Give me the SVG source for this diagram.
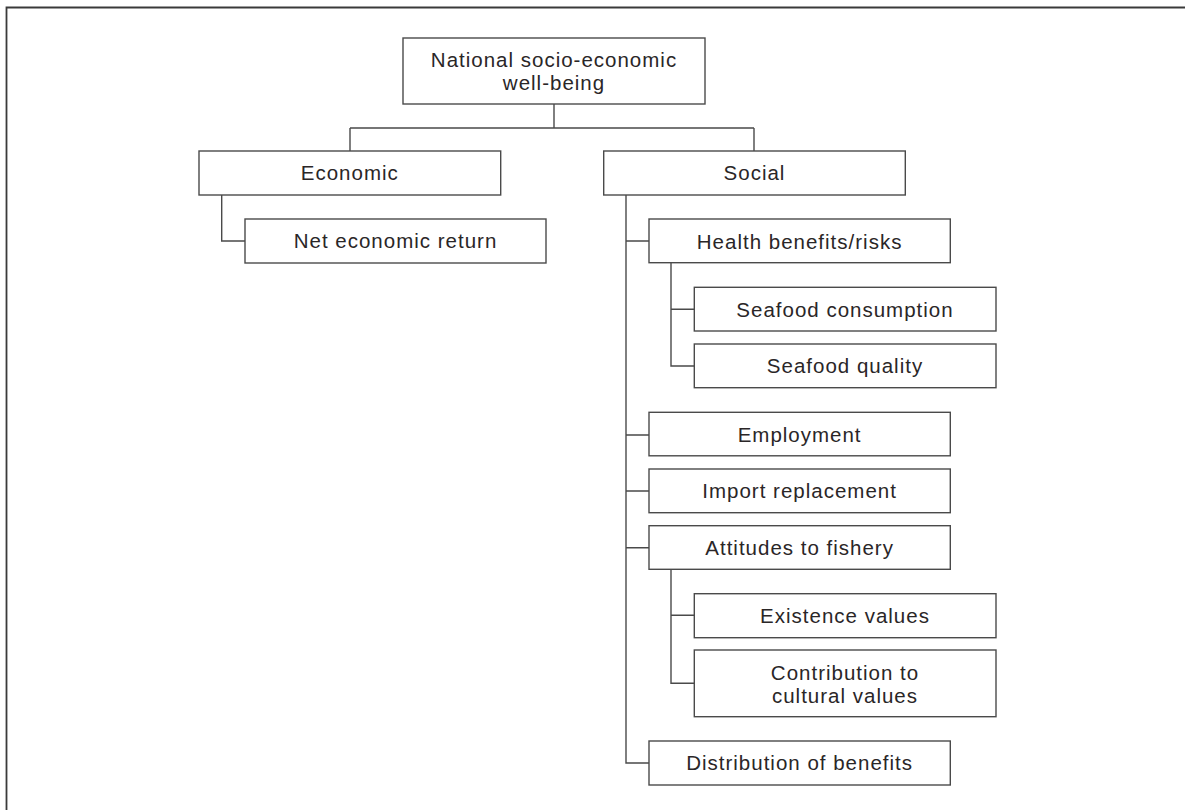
<svg xmlns="http://www.w3.org/2000/svg" width="1185" height="810" viewBox="0 0 1185 810">
  <style>
    .box { fill: #ffffff; stroke: #4a4a4a; stroke-width: 1.4; }
    .lbl { font-family: "Liberation Sans", Arial, sans-serif; font-size: 20.5px; letter-spacing: 1px; fill: #2a2627; text-anchor: middle; }
    .wire { fill: none; stroke: #4a4a4a; stroke-width: 1.4; }
    .frame { fill: none; stroke: #3a3a3a; stroke-width: 1.8; }
  </style>
  <rect width="1185" height="810" fill="#ffffff"/>
  <!-- outer frame (top and left edges) -->
  <path class="frame" d="M6.5,810 V7.5 H1185"/>

  <!-- connectors -->
  <g id="connectors">
    <path class="wire" d="M554,104 V128 M350,128 H754 M350,128 V151 M754,128 V151"/>
    <path class="wire" d="M221.7,195 V241 H245"/>
    <path class="wire" d="M626,195 V763 H649 M626,241 H649 M626,435 H649 M626,491 H649 M626,547.7 H649"/>
    <path class="wire" d="M671,263 V366 H694 M671,309.3 H694"/>
    <path class="wire" d="M671,569.3 V683.3 H694 M671,615.3 H694"/>
  </g>

  <g id="root">
    <rect class="box" x="403" y="38" width="302" height="66"/>
    <text class="lbl" x="554" y="67.3">National socio-economic</text>
    <text class="lbl" x="554" y="89.8">well-being</text>
  </g>
  <g id="economic">
    <rect class="box" x="199" y="151" width="301.7" height="44"/>
    <text class="lbl" x="349.8" y="180">Economic</text>
  </g>
  <g id="net-economic-return">
    <rect class="box" x="245" y="219" width="301" height="44"/>
    <text class="lbl" x="395.5" y="248">Net economic return</text>
  </g>
  <g id="social">
    <rect class="box" x="603.7" y="151" width="301.6" height="44"/>
    <text class="lbl" x="754.5" y="180">Social</text>
  </g>
  <g id="health">
    <rect class="box" x="649" y="219" width="301.3" height="43.7"/>
    <text class="lbl" x="799.6" y="248.5">Health benefits/risks</text>
  </g>
  <g id="seafood-consumption">
    <rect class="box" x="694.3" y="287.3" width="301.7" height="43.7"/>
    <text class="lbl" x="845" y="316.5">Seafood consumption</text>
  </g>
  <g id="seafood-quality">
    <rect class="box" x="694.3" y="344" width="301.7" height="43.7"/>
    <text class="lbl" x="845" y="373.2">Seafood quality</text>
  </g>
  <g id="employment">
    <rect class="box" x="649" y="412.3" width="301.3" height="43.5"/>
    <text class="lbl" x="799.6" y="441.6">Employment</text>
  </g>
  <g id="import-replacement">
    <rect class="box" x="649" y="469" width="301.3" height="43.7"/>
    <text class="lbl" x="799.6" y="498.3">Import replacement</text>
  </g>
  <g id="attitudes">
    <rect class="box" x="649" y="525.7" width="301.3" height="43.6"/>
    <text class="lbl" x="799.6" y="555">Attitudes to fishery</text>
  </g>
  <g id="existence-values">
    <rect class="box" x="694.3" y="593.7" width="301.7" height="44"/>
    <text class="lbl" x="845" y="623">Existence values</text>
  </g>
  <g id="cultural-values">
    <rect class="box" x="694.3" y="650" width="301.7" height="66.7"/>
    <text class="lbl" x="845" y="680">Contribution to</text>
    <text class="lbl" x="845" y="703.3">cultural values</text>
  </g>
  <g id="distribution">
    <rect class="box" x="649" y="741" width="301.3" height="44"/>
    <text class="lbl" x="799.6" y="770.3">Distribution of benefits</text>
  </g>
</svg>
